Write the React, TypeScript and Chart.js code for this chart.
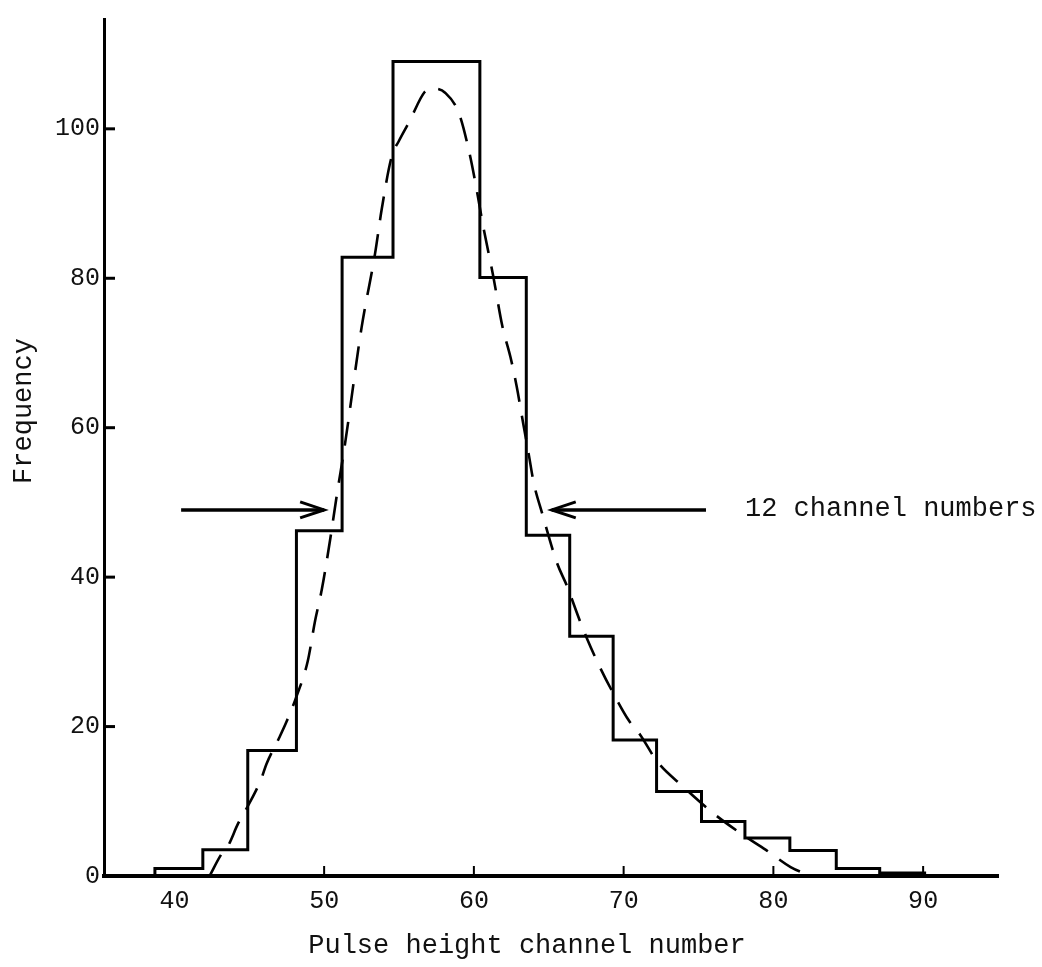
import React, { useEffect, useRef } from "react";
import { Chart, registerables } from "chart.js";

Chart.register(...registerables);

// Histogram: bin edges (channel numbers) and counts
const binEdges = [38.7, 41.9, 44.9, 48.15, 51.2, 54.6, 60.4, 63.5, 66.4, 69.3, 72.2, 75.2, 78.1, 81.1, 84.2, 87.1, 90.1];
const binCounts = [1.0, 3.5, 16.8, 46.2, 82.8, 109.0, 80.1, 45.6, 32.1, 18.2, 11.3, 7.3, 5.1, 3.4, 1.0, 0.4];

// Dashed fitted curve
const fitChannels = [42.35, 43.1, 43.6, 44.25, 45.0, 45.8, 46.15, 47.0, 47.5, 48.15, 48.9, 49.4, 49.85, 50.4, 50.85, 51.4, 52.5, 53.4, 53.85, 54.5, 55.0, 55.7, 56.7, 57.3, 58.1, 59.0, 59.7, 60.2, 60.6, 61.3, 61.9, 62.45, 62.85, 63.3, 63.65, 64.0, 64.55, 65.55, 66.2, 67.05, 67.55, 68.45, 69.35, 70.35, 71.1, 72.25, 73.95, 76.05, 77.9, 79.5, 81.15, 82.5];
const fitFrequency = [0, 2.8, 4.1, 7.0, 9.7, 13.0, 15.0, 18.5, 20.7, 24.0, 28.7, 34.2, 38.4, 45.0, 51.0, 57.9, 73.4, 83.3, 89.3, 96.2, 98.4, 101.0, 104.9, 105.4, 104.8, 102.1, 96.8, 91.7, 87.2, 80.2, 73.6, 69.4, 65.6, 60.5, 56.6, 52.6, 48.6, 41.9, 38.9, 34.3, 31.8, 27.8, 24.3, 20.8, 18.9, 15.3, 12.0, 8.3, 5.6, 3.5, 1.2, 0];

const xTickValues = [40, 50, 60, 70, 80, 90];
const yTickValues = [0, 20, 40, 60, 80, 100];

const xTitle = "Pulse height channel number";
const yTitle = "Frequency";
const noteText = "12 channel numbers";

// annotation placement (data units)
const arrowLevel = 49.0;
const leftArrow = { from: 40.45, to: 50.0 };
const rightArrow = { from: 75.5, to: 65.2 };
const noteAt = { x: 78.1, y: 49.2 };

const FONT = '"Liberation Mono", "DejaVu Sans Mono", monospace';

function drawArrow(ctx: CanvasRenderingContext2D, x0: number, x1: number, yy: number) {
  const dir = Math.sign(x1 - x0);
  ctx.lineWidth = 3.5;
  ctx.beginPath();
  ctx.moveTo(x0, yy);
  ctx.lineTo(x1, yy);
  ctx.stroke();
  ctx.lineWidth = 3;
  ctx.beginPath();
  ctx.moveTo(x1 - dir * 24, yy - 8);
  ctx.lineTo(x1, yy);
  ctx.lineTo(x1 - dir * 24, yy + 8);
  ctx.stroke();
}

const annotate = {
  id: "annotate",
  afterDraw(chart: any) {
    const { ctx } = chart;
    const x = chart.scales.x;
    const y = chart.scales.y;
    ctx.save();
    ctx.strokeStyle = "#000";
    ctx.lineCap = "butt";
    // inward tick marks on the y axis
    ctx.lineWidth = 3;
    y.ticks.forEach((t: any, i: number) => {
      if (i === 0) return;
      const py = y.getPixelForValue(t.value);
      ctx.beginPath();
      ctx.moveTo(x.left, py);
      ctx.lineTo(x.left + 11, py);
      ctx.stroke();
    });
    // inward tick marks on the x axis
    ctx.lineWidth = 2;
    x.ticks.forEach((t: any, i: number) => {
      if (i === 0) return;
      const px = x.getPixelForValue(t.value);
      ctx.beginPath();
      ctx.moveTo(px, y.bottom);
      ctx.lineTo(px, y.bottom - 10);
      ctx.stroke();
    });
    // arrows
    const ay = y.getPixelForValue(arrowLevel);
    drawArrow(ctx, x.getPixelForValue(leftArrow.from), x.getPixelForValue(leftArrow.to), ay);
    drawArrow(ctx, x.getPixelForValue(rightArrow.from), x.getPixelForValue(rightArrow.to), ay);
    // texts
    ctx.fillStyle = "#111";
    ctx.font = `27px ${FONT}`;
    ctx.textBaseline = "middle";
    ctx.textAlign = "left";
    ctx.fillText(noteText, x.getPixelForValue(noteAt.x), y.getPixelForValue(noteAt.y));
    ctx.textAlign = "center";
    ctx.fillText(xTitle, 527, 946);
    ctx.translate(24, 411);
    ctx.rotate(-Math.PI / 2);
    ctx.fillText(yTitle, 0, 0);
    ctx.restore();
  },
};

export default function App() {
  const canvasRef = useRef<HTMLCanvasElement | null>(null);

  useEffect(() => {
    if (!canvasRef.current) return;
    const histPoints: { x: number; y: number }[] = [{ x: binEdges[0], y: 0 }];
    binCounts.forEach((c, i) => histPoints.push({ x: binEdges[i], y: c }));
    histPoints.push({ x: binEdges[binEdges.length - 1], y: 0 });
    const fitPoints = fitChannels.map((c, i) => ({ x: c, y: fitFrequency[i] }));

    const chart = new Chart(canvasRef.current, {
      type: "line",
      data: {
        datasets: [
          {
            data: histPoints,
            stepped: "before",
            borderColor: "#000",
            borderWidth: 3,
            pointRadius: 0,
            fill: false,
            borderJoinStyle: "miter",
          },
          {
            data: fitPoints,
            borderColor: "#000",
            borderWidth: 2.6,
            borderDash: [24, 14],
            pointRadius: 0,
            fill: false,
            cubicInterpolationMode: "monotone",
          },
        ],
      } as any,
      options: {
        responsive: false,
        animation: false,
        devicePixelRatio: 1,
        layout: { padding: { top: 12, right: 44, left: 0, bottom: 0 } },
        plugins: { legend: { display: false }, tooltip: { enabled: false } },
        scales: {
          x: {
            type: "linear",
            min: 35.3,
            max: 95,
            afterBuildTicks: (s: any) => {
              s.ticks = xTickValues.map((v) => ({ value: v }));
            },
            afterFit: (s: any) => {
              s.height = 91;
            },
            ticks: {
              font: { family: FONT, size: 25 },
              color: "#111",
              padding: 10,
              maxRotation: 0,
              autoSkip: false,
            },
            grid: { display: false, drawTicks: false },
            border: { display: true, color: "#000", width: 4 },
          },
          y: {
            type: "linear",
            min: 0,
            max: 114.7,
            afterBuildTicks: (s: any) => {
              s.ticks = yTickValues.map((v) => ({ value: v }));
            },
            afterFit: (s: any) => {
              s.width = 104;
            },
            ticks: {
              font: { family: FONT, size: 25 },
              color: "#111",
              padding: 4,
              autoSkip: false,
            },
            grid: { display: false, drawTicks: false },
            border: { display: true, color: "#000", width: 3 },
          },
        },
      } as any,
      plugins: [annotate],
    });
    return () => chart.destroy();
  }, []);

  return (
    <div style={{ position: "fixed", left: 0, top: 0, width: 1042, height: 967, background: "#fff" }}>
      <canvas ref={canvasRef} width={1042} height={967} style={{ display: "block", width: 1042, height: 967 }} />
    </div>
  );
}
